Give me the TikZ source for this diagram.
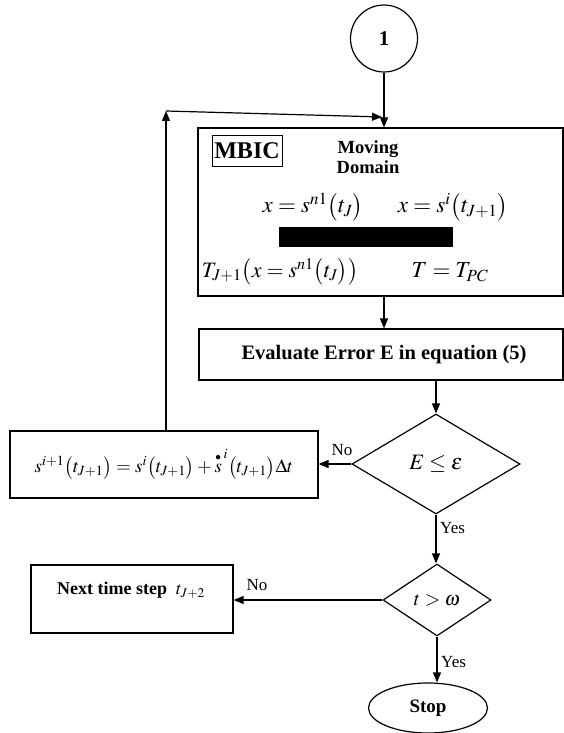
\documentclass[tikz,border=0pt]{standalone}
\usepackage{amsmath}
\usepackage{mathptmx}
\usepackage{fontspec}
\setmainfont{Liberation Serif}
\usetikzlibrary{arrows.meta,shapes.geometric}
\tikzset{
  box/.style={draw, line width=1.2pt, rectangle, inner sep=0pt},
  arr/.style={line width=1.2pt, -{Triangle[length=10pt,width=8pt]}},
  lbl/.style={font=\fontsize{17}{20}\selectfont, inner sep=0pt},
  dec/.style={draw, diamond, line width=1.2pt, inner sep=0pt},
  mth/.style={font=\fontsize{23}{26}\selectfont, inner sep=0pt},
}
\begin{document}
\begin{tikzpicture}[x=1pt,y=-1pt]
\useasboundingbox (0,0) rectangle (564,733);
\clip (0,0) rectangle (564,733);
% nodes
\node[draw, circle, line width=1.2pt, minimum size=67pt, inner sep=0pt,
      font=\bfseries\fontsize{21}{23}\selectfont] (circ) at (384,38.5) {1};
\node[box, minimum width=365pt, minimum height=168pt] (big) at (380.5,212) {};
\node[draw, line width=0.7pt, minimum width=70pt, minimum height=31pt, inner sep=0pt,
      font=\bfseries\fontsize{24}{26}\selectfont] (mbic) at (247,151) {MBIC};
\node[align=center, inner sep=0pt, font=\bfseries\fontsize{18.5}{20}\selectfont] (md) at (368,157) {Moving\\Domain};
\node[mth] (e1) at (313,207) {$x = s^{n1}\bigl(t_{J}\bigr)$};
\node[mth] (e2) at (453,207) {$x = s^{i}\bigl(t_{J+1}\bigr)$};
\node[fill=black, minimum width=174pt, minimum height=20pt, inner sep=0pt] (bar) at (366,237) {};
\node[mth, font=\fontsize{22}{25}\selectfont] (e3) at (280,272) {$T_{J+1}\bigl(x = s^{n1}\bigl(t_{J}\bigr)\bigr)$};
\node[mth] (e4) at (450,272) {$T = T_{PC}$};
\node[box, minimum width=364pt, minimum height=51pt] (eval) at (381,354.5) {};
\node[inner sep=0pt, font=\bfseries\fontsize{20.5}{22}\selectfont] (evt) at (384,355) {Evaluate Error E in equation (5)};
\node[dec, minimum width=168pt, minimum height=100pt, font=\fontsize{22}{24}\selectfont] (d1) at (436,464) {$E \le \varepsilon$};
\node[box, minimum width=308pt, minimum height=67pt, font=\fontsize{19}{21}\selectfont] (upd) at (164,464.5)
  {$s^{i+1}\bigl(t_{J+1}\bigr) = s^{i}\bigl(t_{J+1}\bigr) + \overset{\scriptscriptstyle\bullet}{s}^{\,i}\bigl(t_{J+1}\bigr)\Delta t$};
\node[dec, minimum width=108pt, minimum height=72pt, font=\fontsize{20}{22}\selectfont] (d2) at (437,600) {$t > \omega$};
\node[box, minimum width=202pt, minimum height=68pt] (next) at (132,599) {};
\node[inner sep=0pt, font=\fontsize{18}{20}\selectfont] (nxt) at (131,590) {\textbf{Next time step}\ \ $t_{J+2}$};
\node[draw, ellipse, line width=1.2pt, minimum width=119pt, minimum height=50pt, inner sep=0pt,
      font=\bfseries\fontsize{19}{21}\selectfont] (stop) at (428,708) {Stop};
% labels
\node[lbl] (no1) at (342,450) {No};
\node[lbl, anchor=west] (yes1) at (440,528) {Yes};
\node[lbl] (no2) at (257,585) {No};
\node[lbl, anchor=west] (yes2) at (441,662) {Yes};
% connectors
\coordinate (c1) at (166,111);
\coordinate (c2) at (382,117);
\draw[arr] (circ.south) -- (circ.south |- big.north);
\draw[arr] (upd.north -| c1) -- (c1);
\draw[arr] (c1) -- (c2);
\draw[arr] (circ.south |- big.south) -- (circ.south |- eval.north);
\draw[arr] (d1.north |- eval.south) -- (d1.north);
\draw[arr] (d1.west) -- (d1.west -| upd.east);
\draw[arr] (d1.south) -- (d1.south |- d2.north);
\draw[arr] (d2.west) -- (d2.west -| next.east);
\draw[arr] (d2.south) -- (d2.south |- stop.north);
\end{tikzpicture}
\end{document}
